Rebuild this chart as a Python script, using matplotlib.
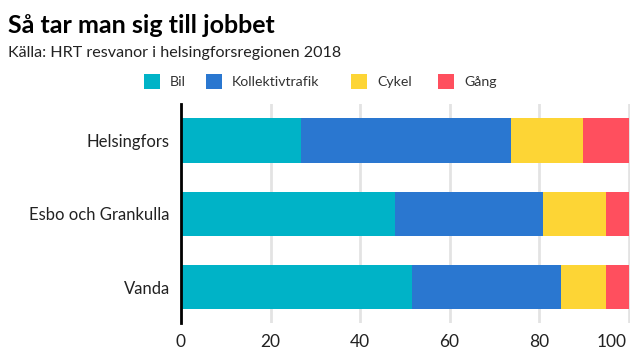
import matplotlib.pyplot as plt
import matplotlib.patches as patches
import matplotlib.transforms as mtransforms
import numpy as np

plt.rcParams['font.family'] = ['Lato', 'DejaVu Sans']

# --- DATA ---
REGIONS = ["Helsingfors", "Esbo och Grankulla", "Vanda"]
SERIES = ["Bil", "Kollektivtrafik", "Cykel", "Gång"]
BIL = [26.7, 47.9, 51.7]
KOLLEKTIV = [47.0, 32.9, 33.2]
CYKEL = [16.1, 14.1, 10.0]
GANG = [10.2, 5.1, 5.1]
X_TICKS = [0, 20, 40, 60, 80, 100]

COLORS = ["#00b3c7", "#2a77d0", "#fdd535", "#ff4f5e"]
LEGEND_X = [144, 206, 351, 438]  # pixel left of each legend square

fig = plt.figure(figsize=(6.4, 3.6), dpi=100)
ax = fig.add_axes([181 / 640, 1 - 323 / 360, 449 / 640, 219 / 360])

y = np.arange(len(REGIONS))
left = np.zeros(len(REGIONS))
for vals, color in zip([BIL, KOLLEKTIV, CYKEL, GANG], COLORS):
    ax.barh(y, vals, left=left, height=0.61, color=color, zorder=2)
    left += np.array(vals)

ax.set_xlim(0, 100.3)
ax.set_ylim(2.49, -0.5)
ax.set_yticks(y)
ax.set_yticklabels(REGIONS, fontsize=12, color="#222222")
ax.set_xticks(X_TICKS)
ax.set_xticklabels([str(t) for t in X_TICKS], fontsize=12.5, color="#222222")
ax.tick_params(length=0, pad=8)
# last tick label sits left of its gridline, like the original
last = ax.get_xticklabels()[-1]
last.set_horizontalalignment("right")
last.set_transform(last.get_transform() +
                   mtransforms.ScaledTranslation(-2 / 100, 0, fig.dpi_scale_trans))
ax.grid(axis="x", color="#e3e3e3", lw=2, zorder=0)
for s in ["top", "right", "bottom"]:
    ax.spines[s].set_visible(False)
ax.spines["left"].set_linewidth(2)
ax.spines["left"].set_zorder(3)

# Title / subtitle
fig.text(8 / 640, 1 - 33 / 360, "Så tar man sig till jobbet", fontsize=18,
         weight="bold", color="#000000", va="baseline")
fig.text(8 / 640, 1 - 57 / 360, "Källa: HRT resvanor i helsingforsregionen 2018",
         fontsize=11.6, color="#222222", va="baseline")

# Legend drawn by hand
for name, color, px in zip(SERIES, COLORS, LEGEND_X):
    fig.patches.append(patches.Rectangle((px / 640, 1 - 89 / 360), 16 / 640, 15 / 360,
                                         transform=fig.transFigure, facecolor=color,
                                         edgecolor="none"))
    fig.text((px + 26) / 640, 1 - 82 / 360, name, fontsize=10.2, color="#333333",
             va="center")

fig.savefig("out.png", dpi=100)
